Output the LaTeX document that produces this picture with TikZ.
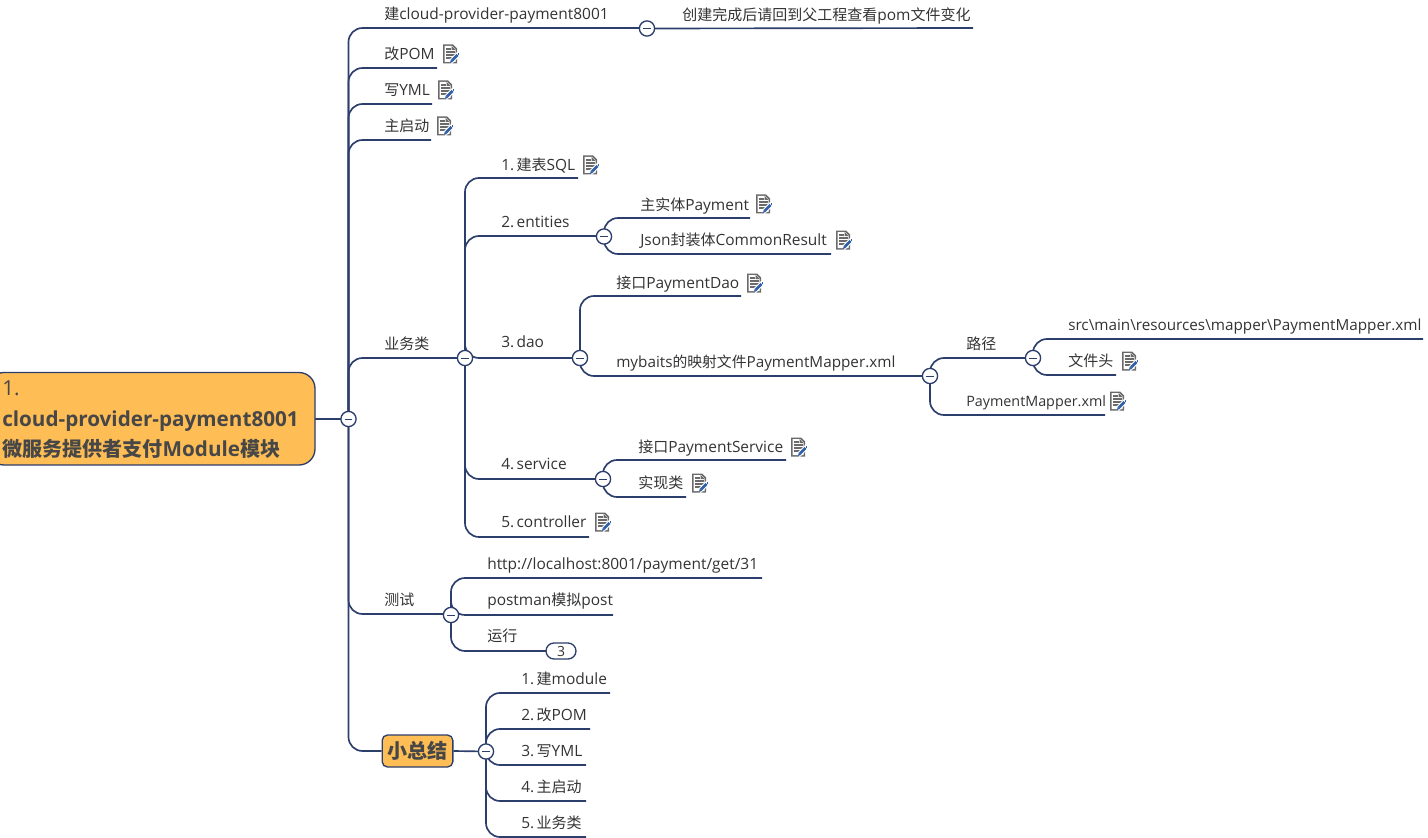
\documentclass[tikz,border=0pt]{standalone}
\usepackage{fontspec}
\setmainfont{Open Sans}
\newfontfamily\cjkfont[Scale=0.97]{Noto Sans CJK SC}
\newcommand{\zh}[1]{{\cjkfont #1}}
\newcommand{\nsp}{\hspace{1.8pt}}
\usetikzlibrary{backgrounds}
\definecolor{linkblue}{HTML}{2C3E6B}
\definecolor{topicorange}{HTML}{FFBD55}
\definecolor{inktext}{HTML}{333333}
\definecolor{boldtext}{HTML}{474747}
\definecolor{pagegrey}{HTML}{6A6A6A}
\definecolor{penblue}{HTML}{2F5FA8}
\tikzset{
  link/.style={draw=linkblue,line width=1.25pt,rounded corners=10.5pt},
  hub/.style={circle,draw=linkblue,fill=white,line width=1pt,minimum size=11.4pt,inner sep=0pt,
    path picture={\draw[linkblue,line width=0.7pt] ([xshift=-2.8pt]path picture bounding box.center) -- ([xshift=2.8pt]path picture bounding box.center);}},
  topiclabel/.style={anchor=base west,inner sep=0pt,font=\fontsize{11.6pt}{13pt}\selectfont,text=inktext},
  snug/.style={font=\fontsize{11.45pt}{13pt}\selectfont},
  pill/.style={draw=linkblue,fill=white,line width=1pt,rounded corners=6pt,minimum width=22.5pt,minimum height=12pt,inner sep=0pt,font=\fontsize{10.5pt}{12pt}\selectfont,text=inktext},
  rootbox/.style={draw=linkblue,fill=topicorange,line width=1pt,rounded corners=12pt},
  summarybox/.style={draw=linkblue,fill=topicorange,line width=1pt,rounded corners=4pt,minimum width=53pt,minimum height=24pt,inner sep=0pt,
    font=\bfseries\fontsize{15.5pt}{18pt}\selectfont,text=boldtext},
  noteicon/.pic={
    % sheet with a folded corner
    \fill[pagegrey] (-8,-9.5) -- (2,-9.5) -- (6,-5.5) -- (6,9.5) -- (-8,9.5) -- cycle;
    \fill[white] (-6.5,-8) -- (1,-8) -- (4.5,-4.5) -- (4.5,8) -- (-6.5,8) -- cycle;
    \fill[pagegrey] (0.5,-8) -- (4.5,-4) -- (0.5,-4) -- cycle;
    % text rows
    \draw[pagegrey,line width=1pt] (-5,-5) -- (-0.5,-5) (-5,-2) -- (3.5,-2) (-5,1) -- (3.5,1) (-5,4) -- (0.5,4);
    % pencil
    \draw[white,line width=3.6pt] (-1,8.5) -- (8,-0.5);
    \draw[penblue,line width=2pt] (1,6.5) -- (6.5,1);
    \fill[penblue] (-1,9) -- (-0.2,5.6) -- (2.2,7.8) -- cycle;
    \fill[penblue] (7,-0.6) rectangle (8.4,0.8);
  }
}
% A labelled topic: its underline ends at (name-e), the text sits above it.
% [#1 text shift] #2 name, #3 text x, #4 underline y, #5 underline end x, #6 text
\newcommand{\topic}[6][0]{%
  \coordinate (#2-e) at (#5,#4);
  \node[topiclabel] (#2) at (#3,#4-9+#1) {#6};
}
% A note icon placed at a given position
\newcommand{\note}[2]{\pic at (#1,#2) {noteicon};}
\begin{document}
\begin{tikzpicture}[x=0.75pt,y=-0.75pt]
\useasboundingbox (0,0) rectangle (1428,838);

% Central topic
\path[rootbox] (-12,372.5) rectangle (315,465);
\node[anchor=base west,inner sep=0pt,text=boldtext,font=\fontsize{15.5pt}{18pt}\selectfont] (roottop) at (2,395) {1.};
\node[anchor=base west,inner sep=0pt,text=boldtext,font=\bfseries\fontsize{15.5pt}{18pt}\selectfont] (rootmid) at (2,426) {cloud-provider-payment8001};
\node[anchor=base west,inner sep=0pt,text=boldtext,font=\bfseries\fontsize{15.5pt}{18pt}\selectfont] (rootlow) at (2,456) {\zh{微服务提供者支付}Module\zh{模块}};
\coordinate (rootedge) at (315,419);

% Collapse controls
\node[hub] (h0) at (348.5,419) {};
\node[hub] (hcreate) at (647,28.5) {};
\node[hub] (hbiz) at (465,358) {};
\node[hub] (hent) at (604,236.5) {};
\node[hub] (hdao) at (580,358) {};
\node[hub] (hmap) at (930,376) {};
\node[hub] (hpath) at (1033,358) {};
\node[hub] (hsvc) at (603,479) {};
\node[hub] (htest) at (451,615) {};
\node[hub] (hsum) at (486,751.5) {};

% First level
\topic[1]{create}{384}{28}{639}{\zh{建}cloud-provider-payment8001}
\topic[1]{pom}{384}{68}{437}{\zh{改}POM}
\topic[1]{yml}{384}{104}{432}{\zh{写}YML}
\topic[1]{boot}{384}{140}{431}{\zh{主启动}}
\topic{biz}{384}{358}{458}{\zh{业务类}}
\topic{test}{384}{614}{444}{\zh{测试}}
\node[summarybox] (sum) at (417.5,751) {\zh{小总结}};
\topic[2]{created}{682}{28}{973}{\zh{创建完成后请回到父工程查看}pom\zh{文件变化}}

% Business classes
\topic[2]{sql}{501}{178}{578}{1.\nsp\zh{建表}SQL}
\topic[1]{ent}{501}{236}{597}{2.\nsp entities}
\topic[-2]{dao}{501}{358}{573}{3.\nsp dao}
\topic[-1]{svc}{501}{479}{596}{4.\nsp service}
\topic[-1]{ctl}{501}{537}{589}{5.\nsp controller}

\topic[1]{pay}{640}{218}{750}{\zh{主实体}Payment}
\topic{json}{640}{254}{831}{Json\zh{封装体}CommonResult}
\topic[1]{pdao}{616}{296}{741}{\zh{接口}PaymentDao}
\topic{mybatis}{616}{376}{923}{\fontsize{11.45pt}{13pt}\selectfont mybaits\zh{的映射文件}PaymentMapper.xml}
\topic{path}{966}{358}{1026}{\zh{路径}}
\topic{pmx}{966}{415}{1105}{\fontsize{10.75pt}{13pt}\selectfont PaymentMapper.xml}
\topic{src}{1068}{339}{1423}{\fontsize{11.45pt}{13pt}\selectfont src\textbackslash main\textbackslash resources\textbackslash mapper\textbackslash PaymentMapper.xml}
\topic{head}{1068}{375}{1116}{\zh{文件头}}
\topic[1]{psvc}{638}{460}{786}{\zh{接口}PaymentService}
\topic{impl}{638}{497}{686}{\zh{实现类}}

% Tests
\topic{http}{487}{578}{762}{http://localhost:8001/payment/get/31}
\topic[-1]{post}{487}{615}{613}{postman\zh{模拟}post}
\topic[-1]{run}{487}{651}{547}{\zh{运行}}
\node[pill] (runpill) at (561,651) {3};

% Recap
\topic{r1}{521}{693}{610}{1.\nsp\zh{建}module}
\topic{r2}{521}{729}{590}{2.\nsp\zh{改}POM}
\topic{r3}{521}{765}{586}{3.\nsp\zh{写}YML}
\topic{r4}{521}{801}{586}{4.\nsp\zh{主启动}}
\topic{r5}{521}{837}{586}{5.\nsp\zh{业务类}}

% Note icons
\note{451}{54}\note{446}{90}\note{445}{126}
\note{591}{165}\note{764}{204}\note{844}{240}
\note{755}{283}\note{1130}{361}\note{1118}{401}
\note{799}{447}\note{700}{483}\note{603}{522}

% Connectors stay behind the controls and boxes
\begin{pgfonlayer}{background}
\draw[link] (rootedge) -- (h0.center);
\foreach \t in {create,pom,yml,boot,biz,test}
  \draw[link] (h0.center) |- (\t-e);
\draw[link] (h0.center) |- (sum.west);
\draw[link] (hcreate.center) -- (created-e);
\foreach \t in {sql,ent,dao,svc,ctl}
  \draw[link] (hbiz.center) |- (\t-e);
\foreach \t in {pay,json}
  \draw[link] (hent.center) |- (\t-e);
\foreach \t in {pdao,mybatis}
  \draw[link] (hdao.center) |- (\t-e);
\foreach \t in {path,pmx}
  \draw[link] (hmap.center) |- (\t-e);
\foreach \t in {src,head}
  \draw[link] (hpath.center) |- (\t-e);
\foreach \t in {psvc,impl}
  \draw[link] (hsvc.center) |- (\t-e);
\foreach \t in {http,post,run}
  \draw[link] (htest.center) |- (\t-e);
\draw[link] (run-e) -- (runpill.west);
\draw[link] (sum.east) -- (hsum.center);
\foreach \t in {r1,r2,r3,r4,r5}
  \draw[link] (hsum.center) |- (\t-e);
\end{pgfonlayer}
\end{tikzpicture}
\end{document}
